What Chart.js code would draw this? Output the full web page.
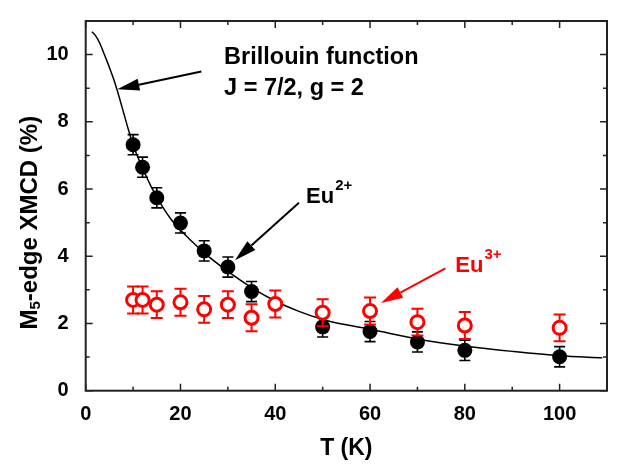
<!DOCTYPE html>
<html>
<head>
<meta charset="utf-8">
<script src="https://cdn.jsdelivr.net/npm/chart.js@4.4.0/dist/chart.umd.min.js"></script>
<style>
	body { margin: 0; background: #fff; }
	#wrap { width: 619px; height: 466px; position: relative; }
</style>
</head>
<body>
<div id="wrap"><canvas id="chart"></canvas></div>
<script>
// Eu2+ points (filled black)
const tempEu2 = [10, 12, 15, 20, 25, 30, 35, 50, 60, 70, 80, 100];
const xmcdEu2 = [7.32, 6.65, 5.74, 4.99, 4.16, 3.68, 2.95, 1.90, 1.76, 1.45, 1.20, 1.01];
const errEu2 = [0.30, 0.30, 0.30, 0.30, 0.30, 0.30, 0.30, 0.30, 0.30, 0.30, 0.30, 0.30];

// Eu3+ points (open red)
const tempEu3 = [10, 12, 15, 20, 25, 30, 35, 40, 50, 60, 70, 80, 100];
const xmcdEu3 = [2.70, 2.70, 2.56, 2.63, 2.42, 2.56, 2.17, 2.58, 2.32, 2.37, 2.04, 1.94, 1.87];
const errEu3 = [0.40, 0.40, 0.40, 0.40, 0.40, 0.40, 0.40, 0.40, 0.40, 0.40, 0.40, 0.40, 0.40];

// Brillouin curve
const fitT = [1.3, 2, 3, 4, 5, 6, 7, 8, 9, 10, 12, 14, 16, 18, 20, 22, 25, 30, 35, 40, 45, 50, 55, 60, 70, 80, 90, 100, 109];
const fitY = [10.68, 10.58, 10.33, 9.98, 9.62, 9.23, 8.77, 8.27, 7.77, 7.31, 6.62, 6.02, 5.52, 5.1, 4.78, 4.5, 4.1, 3.55, 3.07, 2.67, 2.36, 2.12, 1.96, 1.83, 1.54, 1.33, 1.17, 1.04, 0.98];

const xTicks = [0, 20, 40, 60, 80, 100];
const yTicks = [0, 2, 4, 6, 8, 10];
const xMinor = [10, 30, 50, 70, 90];
const yMinor = [1, 3, 5, 7, 9];

const FONT = "'Liberation Sans', Arial, sans-serif";
const RED = "#ff0000";

// text and arrows placed in data units
const labels = [
	{ text: "Brillouin function", x: 29.2, y: 9.9, color: "#000" },
	{ text: "J = 7/2, g = 2", x: 29.2, y: 9.0, color: "#000" }
];
const ions = [
	{ base: "Eu", sup: "2+", x: 46.5, y: 5.59, color: "#000" },
	{ base: "Eu", sup: "3+", x: 78.0, y: 3.52, color: RED }
];
const arrows = [
	{ from: [24.4, 9.50], to: [6.68, 8.97], color: "#000" },
	{ from: [45.0, 5.59], to: [31.5, 3.88], color: "#000" },
	{ from: [75.9, 3.64], to: [62.3, 2.61], color: RED }
];

const pts = (xs, ys) => xs.map((x, i) => ({ x, y: ys[i] }));

function drawArrow(ctx, x1, y1, x2, y2, color) {
	const ang = Math.atan2(y2 - y1, x2 - x1);
	const len = 22, half = 6;
	const bx = x2 - len * Math.cos(ang), by = y2 - len * Math.sin(ang);
	ctx.strokeStyle = color;
	ctx.fillStyle = color;
	ctx.lineWidth = 2;
	ctx.beginPath();
	ctx.moveTo(x1, y1);
	ctx.lineTo(bx, by);
	ctx.stroke();
	ctx.beginPath();
	ctx.moveTo(x2, y2);
	ctx.lineTo(bx + half * Math.sin(ang), by - half * Math.cos(ang));
	ctx.lineTo(bx - half * Math.sin(ang), by + half * Math.cos(ang));
	ctx.closePath();
	ctx.fill();
}

const decor = {
	id: "decor",
	beforeDatasetDraw(chart, args) {
		const ds = chart.data.datasets[args.index];
		if (!ds.errors) return;
		const xs = chart.scales.x, ys = chart.scales.y, ctx = chart.ctx;
		ctx.save();
		ctx.strokeStyle = ds.errorColor;
		ctx.lineWidth = ds.errorWidth;
		ds.data.forEach((p, i) => {
			const px = xs.getPixelForValue(p.x);
			const top = ys.getPixelForValue(p.y + ds.errors[i]);
			const bot = ys.getPixelForValue(p.y - ds.errors[i]);
			ctx.beginPath();
			ctx.moveTo(px, top); ctx.lineTo(px, bot);
			ctx.moveTo(px - ds.capHalf, top); ctx.lineTo(px + ds.capHalf, top);
			ctx.moveTo(px - ds.capHalf, bot); ctx.lineTo(px + ds.capHalf, bot);
			ctx.stroke();
		});
		ctx.restore();
	},
	afterDraw(chart) {
		const { ctx, chartArea: a } = chart;
		const xs = chart.scales.x, ys = chart.scales.y;
		ctx.save();
		ctx.strokeStyle = "#222";
		ctx.lineWidth = 2;
		ctx.strokeRect(a.left, a.top, a.right - a.left, a.bottom - a.top);

		// inward ticks on all four sides
		ctx.lineWidth = 1.5;
		ctx.beginPath();
		const tickX = (v, l) => {
			const px = xs.getPixelForValue(v);
			ctx.moveTo(px, a.bottom); ctx.lineTo(px, a.bottom - l);
			ctx.moveTo(px, a.top); ctx.lineTo(px, a.top + l);
		};
		const tickY = (v, l) => {
			const py = ys.getPixelForValue(v);
			ctx.moveTo(a.left, py); ctx.lineTo(a.left + l, py);
			ctx.moveTo(a.right, py); ctx.lineTo(a.right - l, py);
		};
		xTicks.forEach(v => tickX(v, 7));
		xMinor.forEach(v => tickX(v, 4));
		yTicks.forEach(v => tickY(v, 7));
		yMinor.forEach(v => tickY(v, 4));
		ctx.stroke();

		arrows.forEach(ar => drawArrow(ctx,
			xs.getPixelForValue(ar.from[0]), ys.getPixelForValue(ar.from[1]),
			xs.getPixelForValue(ar.to[0]), ys.getPixelForValue(ar.to[1]), ar.color));

		ctx.textBaseline = "middle";
		ctx.textAlign = "left";
		ctx.font = "bold 23.5px " + FONT;
		labels.forEach(l => {
			ctx.fillStyle = l.color;
			ctx.fillText(l.text, xs.getPixelForValue(l.x), ys.getPixelForValue(l.y));
		});

		ctx.textBaseline = "alphabetic";
		ions.forEach(n => {
			const px = xs.getPixelForValue(n.x), py = ys.getPixelForValue(n.y);
			ctx.fillStyle = n.color;
			ctx.font = "bold 22px " + FONT;
			ctx.fillText(n.base, px, py);
			const w = ctx.measureText(n.base).width;
			ctx.font = "bold 15px " + FONT;
			ctx.fillText(n.sup, px + w + 1, py - 13);
		});

		// y axis title with subscript
		ctx.translate(30, ys.getPixelForValue(5));
		ctx.rotate(-Math.PI / 2);
		ctx.fillStyle = "#000";
		const parts = [["M", 24, 0], ["5", 15, 6], ["-edge XMCD (%)", 24, 0]];
		let total = 0;
		parts.forEach(p => { ctx.font = "bold " + p[1] + "px " + FONT; total += ctx.measureText(p[0]).width; });
		let cx = -total / 2;
		ctx.textBaseline = "middle";
		parts.forEach(p => {
			ctx.font = "bold " + p[1] + "px " + FONT;
			ctx.fillText(p[0], cx, p[2]);
			cx += ctx.measureText(p[0]).width;
		});
		ctx.restore();
	}
};

const tickFont = { family: FONT, size: 20, weight: "bold" };

new Chart(document.getElementById("chart"), {
	type: "scatter",
	data: {
		datasets: [{
			label: "Eu3+",
			data: pts(tempEu3, xmcdEu3),
			errors: errEu3,
			errorColor: RED,
			errorWidth: 2,
			capHalf: 6,
			pointRadius: 6.5,
			pointBorderWidth: 3,
			borderColor: RED,
			backgroundColor: "#fff"
		}, {
			label: "Eu2+",
			data: pts(tempEu2, xmcdEu2),
			errors: errEu2,
			errorColor: "#000",
			errorWidth: 1.6,
			capHalf: 5.5,
			pointRadius: 7.5,
			pointBorderWidth: 0,
			borderColor: "#000",
			backgroundColor: "#000"
		}, {
			label: "Brillouin",
			data: pts(fitT, fitY),
			showLine: true,
			pointRadius: 0,
			borderWidth: 1.5,
			borderColor: "#000",
			cubicInterpolationMode: "monotone"
		}]
	},
	options: {
		responsive: true,
		maintainAspectRatio: false,
		animation: false,
		layout: { padding: { top: 5, right: 12, left: 0, bottom: 0 } },
		plugins: { legend: { display: false }, tooltip: { enabled: false } },
		scales: {
			x: {
				type: "linear",
				min: 0, max: 110,
				grid: { display: false },
				border: { display: false },
				afterBuildTicks: s => { s.ticks = xTicks.map(v => ({ value: v })); },
				afterFit: s => { s.height = 75.3; },
				ticks: { font: tickFont, color: "#000", padding: 4, maxRotation: 0 },
				title: { display: true, text: "T (K)", color: "#000", font: { family: FONT, size: 23, weight: "bold" }, padding: { top: 0, bottom: 4 } }
			},
			y: {
				type: "linear",
				min: 0, max: 11,
				grid: { display: false },
				border: { display: false },
				afterBuildTicks: s => { s.ticks = yTicks.map(v => ({ value: v })); },
				afterFit: s => { s.width = 85.7; },
				ticks: { font: tickFont, color: "#000", padding: 9 }
			}
		}
	},
	plugins: [decor]
});
</script>
</body>
</html>
